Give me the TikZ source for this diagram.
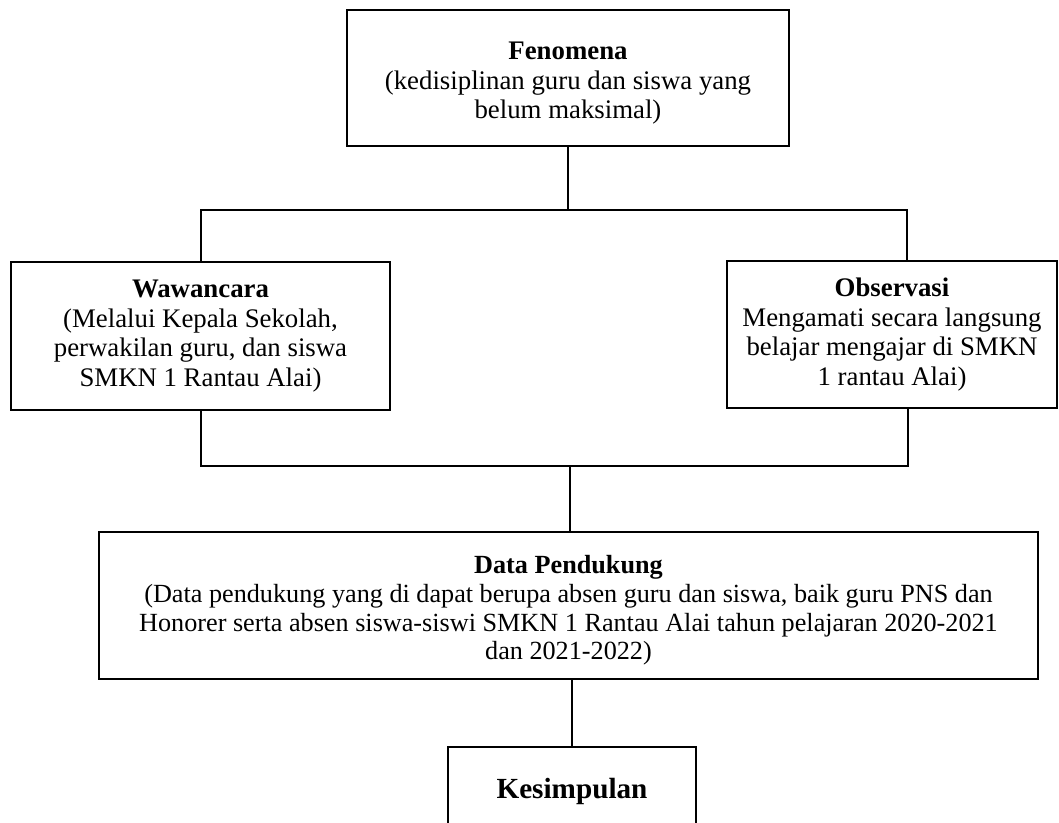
\documentclass[tikz,border=0pt]{standalone}
\usepackage{fontspec}
\setmainfont{Liberation Serif}
\begin{document}
\begin{tikzpicture}[x=0.5pt,y=-0.5pt,
  box/.style={draw,line width=1.4pt,align=center,inner sep=0pt,
    font=\fontsize{13.4}{14.8}\selectfont},
  conn/.style={line width=0.6pt}]
\useasboundingbox (0,0) rectangle (1059,823);
\clip (0,0) rectangle (1059,823);
\node[box,minimum width=221pt,minimum height=68pt] (fen) at (568,78)
  {\rule{0pt}{14pt}\textbf{Fenomena}\\(kedisiplinan guru dan siswa yang\\belum maksimal)};
\node[box,minimum width=189.5pt,minimum height=74pt] (waw) at (200.5,336)
  {\textbf{Wawancara}\\(Melalui Kepala Sekolah,\\perwakilan guru, dan siswa\\SMKN 1 Rantau Alai)};
\node[box,minimum width=165pt,minimum height=73.5pt] (obs) at (892,334.5)
  {\textbf{Observasi}\\Mengamati secara langsung\\belajar mengajar di SMKN\\1 rantau Alai)};
\node[box,minimum width=469.5pt,minimum height=73.5pt,font=\fontsize{13.1}{14.4}\selectfont] (dat) at (568.5,605.5)
  {\rule{0pt}{14pt}\textbf{Data Pendukung}\\(Data pendukung yang di dapat berupa absen guru dan siswa, baik guru PNS dan\\Honorer serta absen siswa-siswi SMKN 1 Rantau Alai tahun pelajaran 2020-2021\\dan 2021-2022)};
\node[box,minimum width=124pt,minimum height=44pt,font=\fontsize{14.6}{16}\selectfont\bfseries] (kes) at (572,791)
  {Kesimpulan};
\coordinate (jaL) at (201,210);
\coordinate (jaR) at (907,210);
\coordinate (jbL) at (201,466);
\coordinate (jbR) at (908,466);
\draw[conn] (fen.south) -- (fen.south |- jaL);
\draw[conn] (waw.north -| jaL) -- (jaL) -- (jaR) -- (jaR |- obs.north);
\draw[conn] (waw.south -| jbL) -- (jbL) -- (jbR) -- (jbR |- obs.south);
\draw[conn] (dat.north -| 570,0) -- (570,466);
\draw[conn] (dat.south -| kes.north) -- (kes.north);
\end{tikzpicture}
\end{document}
